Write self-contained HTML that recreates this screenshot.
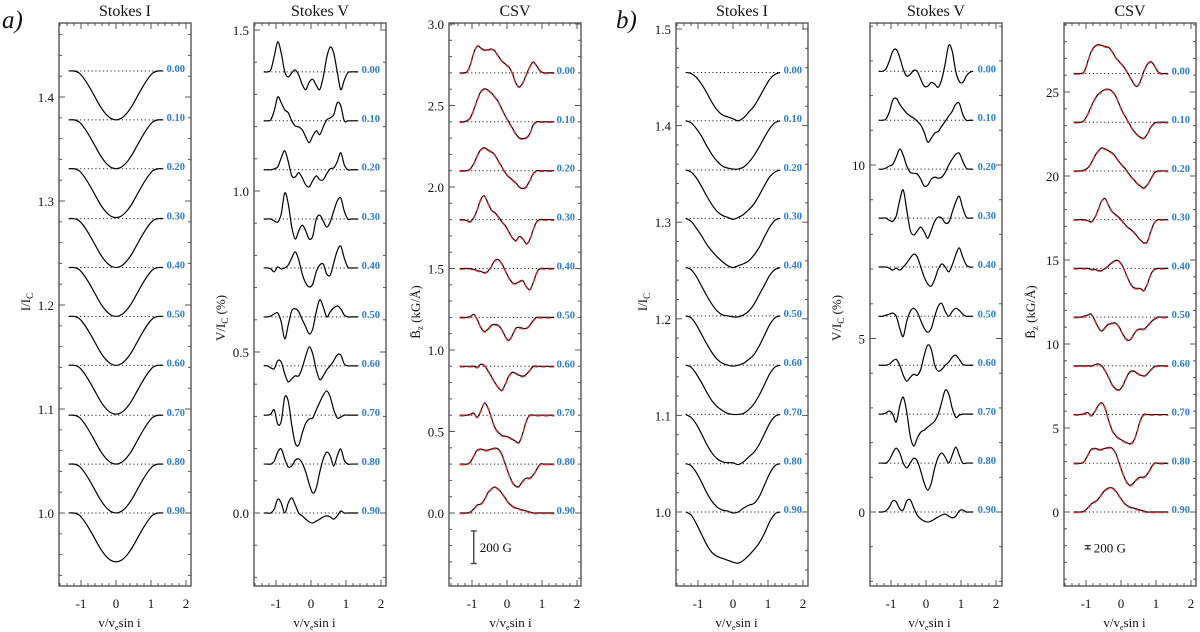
<!DOCTYPE html>
<html><head><meta charset="utf-8"><style>
html,body{margin:0;padding:0;background:#fff}
svg{display:block;font-family:"Liberation Serif",serif}
</style></head><body>
<svg id="fig" width="1200" height="632" viewBox="0 0 1200 632" xmlns="http://www.w3.org/2000/svg"></svg>
<script>
// ---------- DATA ----------
const phases = ["0.00","0.10","0.20","0.30","0.40","0.50","0.60","0.70","0.80","0.90"];
const gridI = [-1.35,-1.2,-1.05,-0.9,-0.75,-0.6,-0.45,-0.3,-0.15,0,0.15,0.3,0.45,0.6,0.75,0.9,1.05,1.2,1.35];
const gridV = [-1.35,-1.25,-1.15,-1.05,-0.95,-0.85,-0.75,-0.65,-0.55,-0.45,-0.35,-0.25,-0.15,-0.05,0.05,0.15,0.25,0.35,0.45,0.55,0.65,0.75,0.85,0.95,1.05,1.15,1.25,1.35];
const xTicks = [-1,0,1,2];

const aI = [
[0,0,-.002,-.008,-.016,-.025,-.034,-.041,-.0455,-.047,-.0455,-.041,-.034,-.025,-.016,-.008,-.002,0,0],
[0,0,-.002,-.008,-.016,-.025,-.034,-.041,-.0455,-.047,-.0455,-.041,-.034,-.025,-.016,-.008,-.002,0,0],
[0,0,-.002,-.008,-.016,-.025,-.034,-.041,-.0455,-.047,-.0455,-.041,-.034,-.025,-.016,-.008,-.002,0,0],
[0,0,-.002,-.008,-.016,-.025,-.034,-.041,-.0455,-.047,-.0455,-.041,-.034,-.025,-.016,-.008,-.002,0,0],
[0,0,-.002,-.008,-.016,-.025,-.034,-.041,-.0455,-.047,-.0455,-.041,-.034,-.025,-.016,-.008,-.002,0,0],
[0,0,-.002,-.008,-.016,-.025,-.034,-.041,-.0455,-.047,-.0455,-.041,-.034,-.025,-.016,-.008,-.002,0,0],
[0,0,-.002,-.008,-.016,-.025,-.034,-.041,-.0455,-.047,-.0455,-.041,-.034,-.025,-.016,-.008,-.002,0,0],
[0,0,-.002,-.008,-.016,-.025,-.034,-.041,-.0455,-.047,-.0455,-.041,-.034,-.025,-.016,-.008,-.002,0,0],
[0,0,-.002,-.008,-.016,-.025,-.034,-.041,-.0455,-.047,-.0455,-.041,-.034,-.025,-.016,-.008,-.002,0,0],
[0,0,-.002,-.008,-.016,-.025,-.034,-.041,-.0455,-.047,-.0455,-.041,-.034,-.025,-.016,-.008,-.002,0,0]];
const aIoffsets = [1.425,1.378,1.331,1.283,1.236,1.189,1.142,1.094,1.047,1.0];

const aV = [
[0,0,.006,.048,.093,.058,0,-.016,-.003,.006,-.01,-.039,-.055,-.032,-.023,-.042,-.055,-.016,.045,.077,.058,0,-.055,-.026,-.003,0,0,0],
[0,0,.003,.031,.074,.056,.034,.025,0,-.016,-.019,-.028,-.05,-.068,-.047,-.031,-.043,-.019,.003,.009,.019,.056,.047,0,0,0,0,0],
[0,0,0,.003,.009,.037,.059,.025,-.019,-.022,-.009,-.025,-.047,-.053,-.034,-.019,-.031,-.031,-.012,.003,.006,.025,.053,.016,0,0,0,0],
[0,0,0,-.006,-.009,.016,.081,.047,-.025,-.062,-.037,-.019,-.037,-.062,-.053,0,.012,-.006,-.025,-.009,.025,.056,.065,.025,0,0,0,0],
[0,0,-.003,-.012,.003,-.003,0,.009,.031,.05,.025,-.019,-.047,-.059,-.05,-.012,.009,.012,-.019,-.022,.016,.053,.068,.031,.003,0,0,0],
[0,0,.003,.009,.012,-.016,-.068,-.025,.019,.025,.016,-.009,-.031,-.053,-.037,.016,.053,.031,0,.016,.028,.034,.025,.006,0,0,0,0],
[0,0,-.006,-.009,.016,.012,-.025,-.05,-.04,-.031,-.031,-.006,.031,.059,.037,-.012,-.043,-.031,-.012,0,.016,.034,.034,.006,0,0,0,0],
[0,0,.003,.016,-.028,-.019,.056,.043,-.031,-.087,-.093,-.056,-.025,-.012,-.009,.016,.04,.062,.075,.056,.016,-.009,-.006,0,0,0,0,0],
[0,0,0,.009,.037,.047,.016,-.009,-.006,.012,.016,.003,-.025,-.062,-.09,-.075,-.025,.016,.037,.025,-.006,.025,.047,.012,0,0,0,0],
[0,0,0,.012,.043,.031,0,.031,.047,.025,0,-.009,-.019,-.028,-.031,-.025,-.019,-.012,-.009,-.012,-.019,-.009,.006,0,0,0,0,0]];
const aVoffsets = [1.37,1.218,1.066,.913,.761,.609,.457,.304,.152,0];

const aC = [
[0,0,.006,.049,.123,.166,.153,.141,.141,.147,.135,.104,.074,.055,.037,0,-.061,-.086,-.061,-.012,.037,.067,.043,.012,0,0,0,0],
[0,0,.006,.025,.074,.135,.184,.202,.196,.178,.153,.123,.08,.037,0,-.037,-.074,-.098,-.104,-.098,-.074,-.018,0,0,0,0,0,0],
[0,0,0,.012,.043,.092,.129,.141,.129,.116,.098,.061,.025,-.012,-.037,-.055,-.074,-.098,-.11,-.098,-.061,-.018,0,0,0,0,0,0],
[0,0,-.006,-.012,.012,.061,.123,.147,.104,.061,.043,.018,-.012,-.037,-.074,-.11,-.129,-.104,-.116,-.147,-.123,-.061,-.012,0,0,0,0,0],
[0,0,0,0,-.006,-.012,-.018,-.025,-.018,.012,.049,.055,.031,-.012,-.055,-.086,-.092,-.08,-.074,-.11,-.129,-.086,-.025,0,0,0,0,0],
[0,0,0,.006,.018,-.012,-.061,-.086,-.074,-.049,-.043,-.049,-.074,-.116,-.141,-.11,-.067,-.061,-.067,-.067,-.049,-.018,0,0,0,0,0,0],
[0,0,0,0,0,-.006,.012,.006,-.025,-.061,-.098,-.129,-.147,-.11,-.061,-.037,-.043,-.055,-.061,-.049,-.025,0,0,0,0,0,0,0],
[0,0,0,.006,.012,-.012,.025,.074,.049,-.012,-.074,-.104,-.123,-.129,-.135,-.147,-.16,-.166,-.11,-.037,0,0,0,0,0,0,0,0],
[0,0,0,.012,.049,.086,.092,.086,.086,.092,.098,.092,.061,0,-.061,-.11,-.135,-.135,-.104,-.086,-.086,-.067,-.031,0,0,0,0,0],
[0,0,0,.006,.025,.049,.055,.08,.123,.147,.16,.147,.123,.092,.061,.043,.031,.025,.018,.012,.006,0,0,0,0,0,0,0]];
const aCoffsets = [2.7,2.4,2.1,1.8,1.5,1.2,.9,.6,.3,0];

const bI = [
[0,-.001,-.005,-.012,-.021,-.031,-.039,-.044,-.046,-.048,-.05,-.047,-.041,-.035,-.026,-.016,-.007,-.002,0],
[0,-.002,-.008,-.016,-.026,-.035,-.042,-.047,-.049,-.05,-.05,-.048,-.043,-.036,-.027,-.017,-.008,-.002,0],
[0,-.002,-.008,-.017,-.027,-.036,-.043,-.047,-.049,-.051,-.049,-.046,-.041,-.035,-.026,-.016,-.007,-.002,0],
[0,-.003,-.01,-.018,-.027,-.034,-.04,-.045,-.049,-.051,-.049,-.047,-.044,-.038,-.03,-.019,-.009,-.002,0],
[0,-.002,-.009,-.019,-.029,-.038,-.045,-.049,-.05,-.051,-.051,-.049,-.045,-.038,-.028,-.018,-.008,-.002,0],
[0,-.002,-.009,-.019,-.029,-.038,-.045,-.049,-.051,-.052,-.051,-.049,-.045,-.04,-.031,-.02,-.009,-.002,0],
[0,-.002,-.009,-.018,-.028,-.037,-.043,-.047,-.05,-.051,-.051,-.05,-.046,-.04,-.031,-.02,-.009,-.002,0],
[0,-.003,-.01,-.02,-.031,-.04,-.046,-.049,-.05,-.05,-.052,-.049,-.044,-.039,-.031,-.02,-.009,-.002,0],
[0,-.002,-.009,-.019,-.03,-.039,-.045,-.048,-.049,-.051,-.05,-.046,-.043,-.041,-.034,-.022,-.01,-.002,0],
[0,-.003,-.012,-.023,-.034,-.042,-.046,-.048,-.05,-.052,-.053,-.05,-.045,-.039,-.032,-.022,-.01,-.002,0]];
const bIoffsets = [1.455,1.405,1.354,1.304,1.253,1.203,1.152,1.101,1.05,1.0];

const bV = [
[0,0,.06,.29,.58,.63,.4,.06,-.14,-.09,.03,0,-.23,-.43,-.43,-.32,-.37,-.46,-.23,.23,.75,.58,0,-.29,-.32,-.14,-.03,0],
[0,0,.03,.23,.58,.63,.46,.32,.2,.12,.06,-.03,-.14,-.35,-.63,-.52,-.37,-.32,-.17,-.03,.12,.26,.46,.49,.17,0,0,0],
[0,0,.03,.09,.14,.35,.58,.4,.09,-.09,-.12,-.14,-.29,-.49,-.46,-.29,-.23,-.26,-.23,-.09,.12,.29,.43,.46,.23,.03,0,0],
[0,0,0,-.06,-.09,.06,.52,.81,.23,-.35,-.49,-.37,-.26,-.4,-.58,-.35,-.09,.03,0,-.14,-.12,.17,.46,.63,.29,.03,0,0],
[0,0,0,-.03,-.09,-.03,-.09,0,.12,.26,.37,.29,0,-.29,-.49,-.55,-.35,-.06,.09,0,-.14,.06,.35,.55,.29,.06,0,0],
[0,0,.03,.06,.09,0,-.35,-.58,-.14,.14,.23,.12,-.12,-.35,-.46,-.35,0,.29,.37,.14,0,.14,.23,.17,.06,0,0,0],
[0,0,0,.03,.12,.17,0,-.29,-.46,-.35,-.26,-.29,-.12,.29,.58,.46,0,-.17,-.12,0,.09,.23,.29,.17,.03,0,0,0],
[0,0,.03,.09,0,-.23,.23,.49,.06,-.63,-.92,-.69,-.52,-.46,-.37,-.29,-.2,0,.35,.69,.58,.17,-.09,-.03,0,0,0,0],
[0,0,0,.09,.29,.43,.29,0,-.14,0,.14,.06,-.23,-.58,-.78,-.58,-.14,.17,.29,.17,0,.23,.46,.23,0,0,0,0],
[0,0,.03,.14,.32,.29,.09,.06,.32,.35,.12,-.09,-.2,-.26,-.29,-.26,-.2,-.14,-.09,-.06,-.12,-.17,-.12,.03,.06,0,0,0]];
const bVoffsets = [12.7,11.29,9.88,8.47,7.06,5.64,4.23,2.82,1.41,0];

const bC = [
[0,0,0,.12,.71,1.31,1.61,1.73,1.67,1.61,1.55,1.31,.95,.71,.48,.18,-.18,-.54,-.77,-.48,.12,.54,.71,.48,.12,0,0,0],
[0,0,0,.12,.48,.95,1.37,1.67,1.84,1.96,1.96,1.84,1.55,1.07,.6,.24,-.12,-.48,-.71,-.89,-.95,-.71,-.3,-.06,0,0,0,0],
[0,0,0,.06,.18,.48,.89,1.19,1.37,1.31,1.19,1.07,.83,.54,.3,.06,-.24,-.48,-.71,-.89,-1.01,-.83,-.48,-.12,0,0,0,0],
[0,0,0,0,-.06,-.12,.12,.6,1.13,1.25,.83,.48,.3,.12,-.12,-.36,-.54,-.71,-.95,-1.19,-1.37,-1.31,-.71,-.18,0,0,0,0],
[0,0,0,0,0,-.06,-.06,-.12,-.12,0,.18,.36,.48,.42,.12,-.36,-.83,-1.13,-1.19,-1.19,-1.31,-.95,-.36,-.06,0,0,0,0],
[0,0,0,.06,.12,.18,-.18,-.6,-.83,-.6,-.42,-.36,-.36,-.6,-1.01,-1.31,-1.37,-1.07,-.77,-.71,-.71,-.54,-.3,-.12,0,0,0,0],
[0,0,0,0,0,0,.06,.12,0,-.3,-.71,-1.13,-1.37,-1.43,-1.19,-.71,-.36,-.3,-.42,-.54,-.6,-.48,-.24,-.06,0,0,0,0],
[0,0,0,.06,.12,-.06,.18,.54,.71,.36,-.36,-.95,-1.25,-1.43,-1.55,-1.67,-1.73,-1.61,-1.07,-.36,0,0,0,0,0,0,0,0],
[0,0,0,.12,.48,.83,.89,.83,.83,.89,.95,.89,.6,0,-.6,-1.07,-1.31,-1.19,-.95,-.83,-.83,-.65,-.3,0,0,0,0,0],
[0,0,0,.06,.24,.48,.6,.77,1.07,1.31,1.43,1.43,1.25,.95,.65,.42,.3,.24,.18,.12,.06,0,0,0,0,0,0,0]];
const bCoffsets = [26.1,23.2,20.3,17.4,14.5,11.6,8.7,5.8,2.9,0];

const aITicks = [1.0,1.1,1.2,1.3,1.4], aITickLabels = ["1.0","1.1","1.2","1.3","1.4"];
const aVTicks = [0,0.5,1.0,1.5], aVTickLabels = ["0.0","0.5","1.0","1.5"];
const aCTicks = [0,0.5,1,1.5,2,2.5,3], aCTickLabels = ["0.0","0.5","1.0","1.5","2.0","2.5","3.0"];
const bITicks = [1.0,1.1,1.2,1.3,1.4,1.5], bITickLabels = ["1.0","1.1","1.2","1.3","1.4","1.5"];
const bVTicks = [0,5,10], bVTickLabels = ["0","5","10"];
const bCTicks = [0,5,10,15,20,25], bCTickLabels = ["0","5","10","15","20","25"];

// ---------- DRAWING ----------
const NS = "http://www.w3.org/2000/svg";
const svg = document.getElementById("fig");
function el(tag, attrs, parent, text){
  const e = document.createElementNS(NS, tag);
  for (const k in attrs) e.setAttribute(k, attrs[k]);
  if (text !== undefined) e.textContent = text;
  (parent || svg).appendChild(e);
  return e;
}
const TOP = 23, BOT = 586, W = 132;

function smoothPath(pts){
  let d = "M" + pts[0][0].toFixed(2) + "," + pts[0][1].toFixed(2);
  for (let i = 0; i < pts.length - 1; i++){
    const p0 = pts[Math.max(0,i-1)], p1 = pts[i], p2 = pts[i+1], p3 = pts[Math.min(pts.length-1,i+2)];
    const c1x = p1[0] + (p2[0]-p0[0])/6, c1y = p1[1] + (p2[1]-p0[1])/6;
    const c2x = p2[0] - (p3[0]-p1[0])/6, c2y = p2[1] - (p3[1]-p1[1])/6;
    d += " C" + c1x.toFixed(2) + "," + c1y.toFixed(2) + " " + c2x.toFixed(2) + "," + c2y.toFixed(2) + " " + p2[0].toFixed(2) + "," + p2[1].toFixed(2);
  }
  return d;
}

function panel(cfg){
  const g = el("g", {});
  
  
  const L = cfg.L, R = L + W;
  const xs = v => cfg.x0 + v * 35;
  const ys = v => cfg.yRef - (v - cfg.vRef) * cfg.k;

  const t = el("text", {x: L + W/2, y: 16, "text-anchor": "middle", "font-size": 16, fill: "#111"}, g, cfg.title);
  
  

  for (let p = 0; p < cfg.data.length; p++){
    const off = cfg.offsets[p];
    const yb = ys(off);
    const bl = el("line", {x1: xs(cfg.grid[0]), x2: xs(cfg.grid[cfg.grid.length-1]), y1: yb, y2: yb, stroke: "#222", "stroke-width": 1, "stroke-dasharray": "1.2,2.6"}, g);
    
    
    const pts = cfg.grid.map((x, i) => [xs(x), ys(off + cfg.data[p][i])]);
    const d = smoothPath(pts);
    const c = el("path", {d: d, fill: "none", stroke: "#000", "stroke-width": 1.2}, g);
    
    
    if (cfg.fit){
      const rf = el("path", {d: d, fill: "none", stroke: "#e0262b", "stroke-width": 1.3, "stroke-dasharray": "5,3", transform: "translate(0,0.6)"}, g);
      
      
    }
    const lb = el("text", {x: R - 6, y: yb + 1, "text-anchor": "end", "font-size": 10.5, "font-weight": "bold", fill: "#2a7ad6"}, g, phases[p]);
    
    
  }

  const box = el("rect", {x: L, y: TOP, width: W, height: BOT - TOP, fill: "none", stroke: "#555", "stroke-width": 1.4}, g);
  
  

  for (let v = -1.6; v <= 2.21; v += 0.2){
    const x = xs(v); if (x < L + 1 || x > R - 1) continue;
    const major = Math.abs(v - Math.round(v)) < 0.01;
    const len = major ? 6 : 3;
    el("line", {x1: x, x2: x, y1: BOT, y2: BOT - len, stroke: "#555", "stroke-width": 1}, g);
    el("line", {x1: x, x2: x, y1: TOP, y2: TOP + len, stroke: "#555", "stroke-width": 1}, g);
  }
  xTicks.forEach(v => {
    const tl = el("text", {x: xs(v), y: 608, "text-anchor": "middle", "font-size": 13, fill: "#111"}, g, String(v));
    
    
  });
  const xt = el("text", {x: xs(0.1), y: 627, "text-anchor": "middle", "font-size": 13, fill: "#111"}, g);
  
  
  el("tspan", {}, xt, "v/v");
  el("tspan", {dy: 3, "font-size": 8}, xt, "e");
  el("tspan", {dy: -3}, xt, "sin i");

  const lo = cfg.vRef - (BOT - cfg.yRef) / cfg.k, hi = cfg.vRef + (cfg.yRef - TOP) / cfg.k;
  const n0 = Math.ceil(lo / cfg.minor), n1 = Math.floor(hi / cfg.minor);
  for (let n = n0; n <= n1; n++){
    const v = n * cfg.minor, y = ys(v);
    const major = cfg.ticks.some(tk => Math.abs(tk - v) < cfg.minor/10);
    const len = major ? 6 : 3;
    el("line", {x1: L, x2: L + len, y1: y, y2: y, stroke: "#555", "stroke-width": 1}, g);
    el("line", {x1: R, x2: R - len, y1: y, y2: y, stroke: "#555", "stroke-width": 1}, g);
  }
  cfg.ticks.forEach((v, i) => {
    const tl = el("text", {x: L - 5, y: ys(v) + 5, "text-anchor": "end", "font-size": 13, fill: "#111"}, g, cfg.tickLabels[i]);
    
    
  });

  const yt = el("text", {x: 0, y: 0, "text-anchor": "middle", "font-size": 13, fill: "#111", transform: "translate(" + (L - 29) + "," + cfg.ytY + ") rotate(-90)"}, g);
  
  
  if (cfg.ytype === "I"){
    el("tspan", {}, yt, "I/I");
    el("tspan", {dy: 3, "font-size": 9}, yt, "C");
  } else if (cfg.ytype === "V"){
    el("tspan", {}, yt, "V/I");
    el("tspan", {dy: 3, "font-size": 9}, yt, "C");
    el("tspan", {dy: -3}, yt, " (%)");
  } else {
    el("tspan", {}, yt, "B\u0304");
    el("tspan", {dy: 3, "font-size": 9}, yt, "z");
    el("tspan", {dy: -3}, yt, " (kG/\u00C5)");
  }

  if (cfg.bar){
    const bx = xs(-0.95), y1 = ys(cfg.barV), y2 = ys(cfg.barV - 0.2);
    const sb = el("g", {}, g);
    
    
    el("line", {x1: bx, x2: bx, y1: y1, y2: y2, stroke: "#444", "stroke-width": 1.4}, sb);
    el("line", {x1: bx - 3, x2: bx + 3, y1: y1, y2: y1, stroke: "#444", "stroke-width": 1.4}, sb);
    el("line", {x1: bx - 3, x2: bx + 3, y1: y2, y2: y2, stroke: "#444", "stroke-width": 1.4}, sb);
    el("text", {x: bx + 6, y: (y1 + y2)/2 + 5, "font-size": 13, fill: "#111"}, sb, "200 G");
  }
}

panel({name:"panel-a-stokes-i", title:"Stokes I", L:59, x0:116, yRef:513, vRef:1.0, k:1040, grid:gridI, data:aI, offsets:aIoffsets, ticks:aITicks, tickLabels:aITickLabels, minor:0.02, ytype:"I", ytY:302});
panel({name:"panel-a-stokes-v", title:"Stokes V", L:254, x0:311, yRef:513, vRef:0, k:322, grid:gridV, data:aV, offsets:aVoffsets, ticks:aVTicks, tickLabels:aVTickLabels, minor:0.1, ytype:"V", ytY:318});
panel({name:"panel-a-csv", title:"CSV", L:449, x0:507, yRef:513, vRef:0, k:163, grid:gridV, data:aC, offsets:aCoffsets, ticks:aCTicks, tickLabels:aCTickLabels, minor:0.1, ytype:"C", ytY:312, fit:true, bar:true, barV:-0.11});
panel({name:"panel-b-stokes-i", title:"Stokes I", L:676, x0:733, yRef:512, vRef:1.0, k:966, grid:gridI, data:bI, offsets:bIoffsets, ticks:bITicks, tickLabels:bITickLabels, minor:0.02, ytype:"I", ytY:302});
panel({name:"panel-b-stokes-v", title:"Stokes V", L:870, x0:926, yRef:512, vRef:0, k:34.7, grid:gridV, data:bV, offsets:bVoffsets, ticks:bVTicks, tickLabels:bVTickLabels, minor:1, ytype:"V", ytY:318});
panel({name:"panel-b-csv", title:"CSV", L:1064, x0:1121, yRef:512, vRef:0, k:16.8, grid:gridV, data:bC, offsets:bCoffsets, ticks:bCTicks, tickLabels:bCTickLabels, minor:1, ytype:"C", ytY:312, fit:true, bar:true, barV:-2.0});

const la = el("text", {x: 2, y: 28, "font-size": 25, "font-style": "italic", fill: "#111"}, svg, "a)");


const lbb = el("text", {x: 616, y: 28, "font-size": 25, "font-style": "italic", fill: "#111"}, svg, "b)");


</script>
</body></html>
